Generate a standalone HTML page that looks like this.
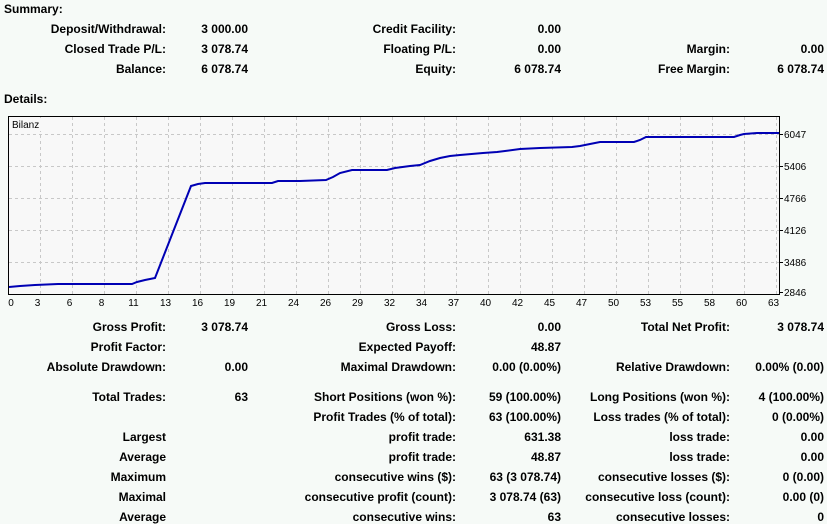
<!DOCTYPE html>
<html><head><meta charset="utf-8"><style>
html,body{margin:0;padding:0}
body{width:827px;height:524px;background:#f6faf7;position:relative;overflow:hidden;font-family:"Liberation Sans",Arial,sans-serif;font-size:12px;font-weight:bold;color:#000}
.t{position:absolute;line-height:14px;white-space:nowrap}
.r{text-align:right}
svg{font-weight:normal}
</style></head><body>
<div class="t" style="left:4px;top:2px">Summary:</div>
<div class="t" style="left:4px;top:92px">Details:</div>
<div id="c"></div>
<svg style="position:absolute;left:0;top:0" width="827" height="524" font-family="Liberation Sans, Arial, sans-serif" font-size="10" font-weight="normal">
<rect x="8.5" y="116.5" width="771" height="178" fill="#f8f8f8" stroke="#000"/>
<g stroke="#c8c8c8" stroke-dasharray="3,3" stroke-width="1">
<line x1="9" x2="779" y1="134.5" y2="134.5"/><line x1="9" x2="779" y1="166.5" y2="166.5"/><line x1="9" x2="779" y1="198.5" y2="198.5"/><line x1="9" x2="779" y1="230.5" y2="230.5"/><line x1="9" x2="779" y1="262.5" y2="262.5"/>
</g>
<g id="vg" stroke="#c8c8c8" stroke-dasharray="3,3"></g>
<g stroke="#000"><line x1="780" x2="783" y1="134.5" y2="134.5"/><line x1="780" x2="783" y1="166.5" y2="166.5"/><line x1="780" x2="783" y1="198.5" y2="198.5"/><line x1="780" x2="783" y1="230.5" y2="230.5"/><line x1="780" x2="783" y1="262.5" y2="262.5"/><line x1="780" x2="783" y1="292.5" y2="292.5"/></g>
<g font-size="10"><text x="784" y="138">6047</text><text x="784" y="170">5406</text><text x="784" y="202">4766</text><text x="784" y="234">4126</text><text x="784" y="266">3486</text><text x="784" y="296">2846</text></g>
<rect x="10" y="118" width="36" height="13" fill="#f8f8f8"/>
<text x="12" y="128">Bilanz</text>
<g id="xl" text-anchor="middle"></g>
<polyline fill="none" stroke="#0000b4" stroke-width="2" points="9,287 20,286 35,285 58,284 132,284 137,282 145,280 155,278 191,186 198,184 205,183 272,183 278,181 300,181 326,180 333,177 340,173 352,170 387,170 395,168 410,166 420,165 430,161 440,158 450,156 460,155 483,153 497,152 505,151 520,149 540,148 572,147 580,146 590,144 600,142 634,142 640,140 646,137 734,137 740,135 744,134 757,133 779,133"/>
</svg>
<script>
var vg=document.getElementById('vg'),xl=document.getElementById('xl'),ns='http://www.w3.org/2000/svg';
var labs=[3,6,8,11,13,16,19,21,24,26,29,32,34,37,40,42,45,47,50,53,55,58,60,63];
var t=document.createElementNS(ns,'text');t.setAttribute('x',11);t.setAttribute('y',306);t.textContent='0';xl.appendChild(t);
for(var i=0;i<24;i++){var x=40.5+32*i;var l=document.createElementNS(ns,'line');l.setAttribute('x1',x);l.setAttribute('x2',x);l.setAttribute('y1',117);l.setAttribute('y2',294);vg.appendChild(l);
var tx=document.createElementNS(ns,'text');tx.setAttribute('x',x-3);tx.setAttribute('y',306);tx.textContent=labs[i];xl.appendChild(tx);}
var rows=[
[29,'Deposit/Withdrawal:','3 000.00','Credit Facility:','0.00','',''],
[49,'Closed Trade P/L:','3 078.74','Floating P/L:','0.00','Margin:','0.00'],
[69,'Balance:','6 078.74','Equity:','6 078.74','Free Margin:','6 078.74'],
[327,'Gross Profit:','3 078.74','Gross Loss:','0.00','Total Net Profit:','3 078.74'],
[347,'Profit Factor:','','Expected Payoff:','48.87','',''],
[367,'Absolute Drawdown:','0.00','Maximal Drawdown:','0.00 (0.00%)','Relative Drawdown:','0.00% (0.00)'],
[397,'Total Trades:','63','Short Positions (won %):','59 (100.00%)','Long Positions (won %):','4 (100.00%)'],
[417,'','','Profit Trades (% of total):','63 (100.00%)','Loss trades (% of total):','0 (0.00%)'],
[437,'Largest','','profit trade:','631.38','loss trade:','0.00'],
[457,'Average','','profit trade:','48.87','loss trade:','0.00'],
[477,'Maximum','','consecutive wins ($):','63 (3 078.74)','consecutive losses ($):','0 (0.00)'],
[497,'Maximal','','consecutive profit (count):','3 078.74 (63)','consecutive loss (count):','0.00 (0)'],
[517,'Average','','consecutive wins:','63','consecutive losses:','0']];
var edges=[166,248,456,561,730,824],h='';
rows.forEach(function(r){for(var k=0;k<6;k++){if(r[k+1])h+='<div class="t r" style="right:'+(827-edges[k])+'px;top:'+(r[0]-7)+'px">'+r[k+1]+'</div>';}});
document.getElementById('c').innerHTML=h;
</script>
</body></html>
